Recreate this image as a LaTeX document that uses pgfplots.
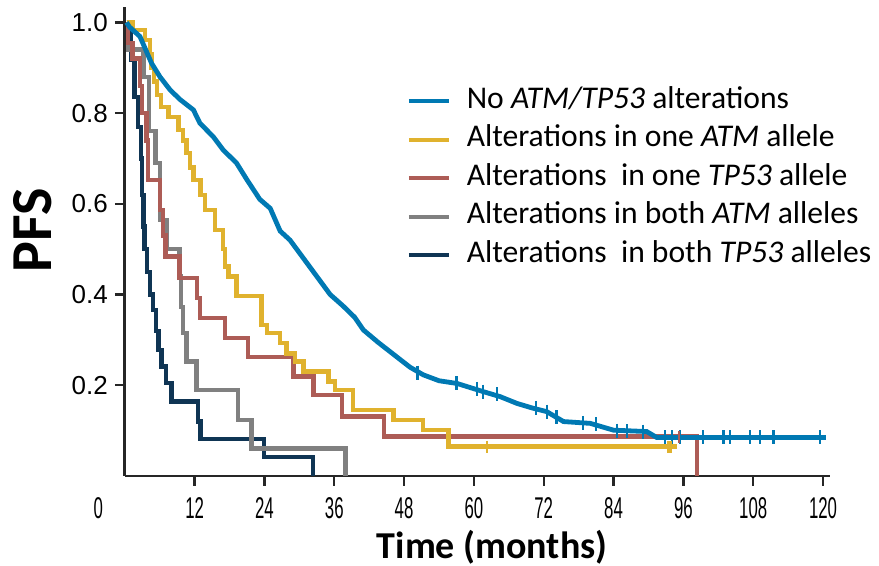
\documentclass[border=0pt]{standalone}
\usepackage{pgfplots}
\pgfplotsset{compat=1.18}
\usepackage{graphicx}
\usepackage{fontspec}
\setmainfont{Carlito}
\newfontfamily\arial{Liberation Sans}

\definecolor{cNone}{HTML}{0079B3}
\definecolor{cAtmOne}{HTML}{E0B22E}
\definecolor{cTpOne}{HTML}{AD5C56}
\definecolor{cAtmBoth}{HTML}{808080}
\definecolor{cTpBoth}{HTML}{0F3554}

\begin{document}
\begin{tikzpicture}
\path[use as bounding box] (-62.4pt,-45pt) rectangle (377.1pt,238pt);
\begin{axis}[
  at={(0,0)}, anchor=south west,
  scale only axis, width=352.6pt, height=234.5pt,
  xmin=0, xmax=121.2, ymin=0, ymax=1.034,
  clip=false,
  axis x line=bottom, axis y line=left,
  axis line style={-, line width=1.4pt, color=black!85},
  tick align=outside, major tick length=5pt,
  tick style={line width=1.2pt, color=black!85},
  /pgf/number format/assume math mode=true,
  xtick={12,24,...,120},
  xticklabel={\scalebox{0.56}[1]{\pgfmathprintnumber{\tick}}},
  xticklabel style={font=\arial\fontsize{15}{15}\selectfont, yshift=-2pt},
  extra x ticks={0},
  extra x tick style={major tick length=0pt, tick label style={xshift=-13.2pt, yshift=-5pt}},
  ytick={0.2,0.4,0.6,0.8,1.0},
  yticklabel style={font=\arial\fontsize{13}{13}\selectfont,
    /pgf/number format/.cd, fixed, fixed zerofill, precision=1},
  xlabel={Time (months)},
  xlabel style={font=\bfseries\fontsize{19}{19}\selectfont,
    at={(axis description cs:0.521,-0.153)}, anchor=center},
  ylabel={PFS},
  ylabel style={font=\bfseries\fontsize{29}{29}\selectfont,
    at={(axis description cs:-0.1305,0.524)}, anchor=center},
  legend style={at={(axis cs:48.4,0.86)}, anchor=north west, draw=none, fill=none,
    inner sep=0pt, font=\fontsize{15.8}{15.8}\selectfont,
    nodes={inner sep=0pt, text height=11pt, text depth=4pt},
    row sep=4.25pt, column sep=8pt},
  legend cell align=left,
  legend image code/.code={\draw[#1, line width=2pt] (0pt,0pt) -- (20pt,0pt);},
]
\addlegendimage{cNone}
\addlegendentry{No \textit{ATM/TP53} alterations}
\addlegendimage{cAtmOne}
\addlegendentry{Alterations in one \textit{ATM} allele}
\addlegendimage{cTpOne}
\addlegendentry{Alterations\ \ in one \textit{TP53} allele}
\addlegendimage{cAtmBoth}
\addlegendentry{Alterations in both \textit{ATM} alleles}
\addlegendimage{cTpBoth}
\addlegendentry{Alterations\ \ in both \textit{TP53} alleles}

% both TP53 alleles
\addplot[const plot, line width=2.2pt, color=cTpBoth, forget plot] coordinates {
  (0.3,1.0) (1.1,0.917) (1.7,0.836) (2.3,0.77) (2.8,0.70) (3.0,0.62)
  (3.2,0.55) (3.4,0.50) (3.8,0.45) (4.3,0.40) (4.8,0.366) (5.4,0.32)
  (5.8,0.278) (6.3,0.241) (7.1,0.205) (8.0,0.164) (12.6,0.12)
  (13.0,0.082) (23.9,0.042) (32.3,0)
};
% both ATM alleles
\addplot[const plot, line width=2.2pt, color=cAtmBoth, forget plot] coordinates {
  (0.3,1.0) (0.5,0.94) (3.2,0.88) (4.2,0.76) (5.3,0.69) (6.0,0.564)
  (7.3,0.50) (9.4,0.44) (9.7,0.373) (10.0,0.315) (10.6,0.252)
  (12.3,0.19) (19.5,0.123) (21.8,0.061) (37.9,0)
};
% one TP53 allele
\addplot[const plot, line width=2.2pt, color=cTpOne, forget plot] coordinates {
  (0.3,1.0) (0.5,0.955) (1.3,0.92) (2.6,0.86) (3.0,0.80) (3.7,0.74)
  (4.0,0.653) (6.0,0.587) (6.6,0.53) (7.0,0.484) (9.4,0.436)
  (12.4,0.392) (12.9,0.348) (17.2,0.304) (21.2,0.263) (29.0,0.219)
  (32.4,0.179) (37.3,0.131) (44.5,0.087) (98.3,0)
};
% one ATM allele
\addplot[const plot, line width=2.2pt, color=cAtmOne, forget plot] coordinates {
  (0.3,1.0) (1.4,0.983) (3.5,0.961) (4.3,0.93) (4.6,0.90) (5.0,0.87)
  (5.5,0.84) (6.2,0.814) (7.5,0.792) (9.2,0.763) (10.0,0.74)
  (10.6,0.712) (11.2,0.68) (11.8,0.653) (13.0,0.62) (13.8,0.587)
  (15.5,0.542) (16.9,0.50) (17.2,0.462) (17.8,0.44) (19.2,0.397)
  (23.5,0.333) (24.4,0.315) (26.7,0.293) (27.8,0.27) (29.3,0.252)
  (30.7,0.23) (35.0,0.208) (36.1,0.19) (39.2,0.146) (46.2,0.123)
  (51.3,0.101) (55.6,0.065) (94.9,0.065)
};
% no alterations
\addplot[line width=2.4pt, color=cNone, forget plot] coordinates {
  (0.3,1.0) (0.8,0.99) (2.6,0.969) (4.6,0.91) (6.05,0.88) (7.8,0.851)
  (9.5,0.83) (11.8,0.807) (12.9,0.778) (15.2,0.748) (16.9,0.719)
  (19.2,0.69) (21.0,0.653) (23.2,0.61) (25.0,0.59) (26.7,0.54)
  (28.4,0.52) (30.7,0.48) (33.0,0.44) (35.3,0.40) (37.5,0.375)
  (39.5,0.35) (41.0,0.322) (43.5,0.295) (46.7,0.263) (49.0,0.24)
  (51.3,0.223) (54.0,0.21) (57.1,0.204) (61.6,0.186) (64.5,0.175)
  (67.4,0.16) (70.0,0.15) (72.5,0.142) (75.4,0.12) (80.0,0.116)
  (84.0,0.101) (89.7,0.098) (91.4,0.085) (120.5,0.085)
};
% censoring ticks
\addplot[only marks, mark=|, mark size=3.5pt, line width=1.1pt, color=cNone, forget plot] coordinates {
  (50.3,0.228) (57.0,0.205) (60.5,0.192) (61.6,0.186) (63.9,0.18)
  (70.7,0.15) (72.5,0.142) (74.2,0.13) (78.8,0.117) (81.0,0.114)
  (84.6,0.10) (86.3,0.099) (89.1,0.098) (92.9,0.085) (94.0,0.085)
  (95.4,0.085) (99.4,0.085) (102.9,0.085) (104.0,0.085) (107.5,0.085)
  (109.2,0.085) (111.5,0.085) (119.5,0.085)
};
\addplot[only marks, mark=|, mark size=3pt, line width=1.1pt, color=cAtmOne, forget plot] coordinates {
  (62.2,0.065) (93.3,0.065) (93.8,0.065)
};
\addplot[only marks, mark=|, mark size=3pt, line width=1.1pt, color=cTpOne, forget plot] coordinates {
  (95.2,0.087)
};
\end{axis}
\end{tikzpicture}
\end{document}
